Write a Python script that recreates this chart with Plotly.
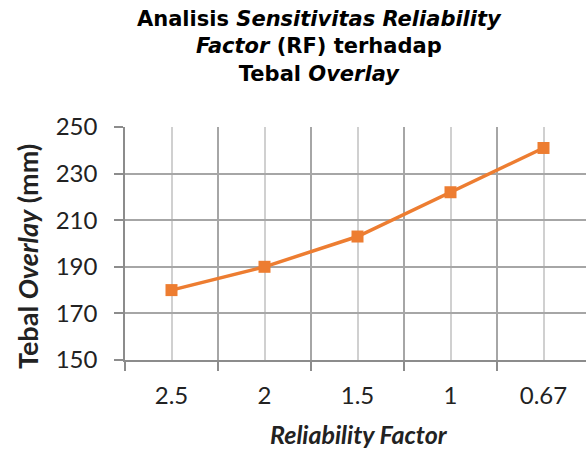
import plotly.graph_objects as go

categories = ["2.5", "2", "1.5", "1", "0.67"]
tebal_overlay = [180, 190, 203, 222, 241]
y_ticks = [150, 170, 190, 210, 230, 250]

idx = list(range(len(categories)))

fig = go.Figure()
fig.add_trace(go.Scatter(
    x=idx, y=tebal_overlay, mode="lines+markers",
    line=dict(color="#ED7D31", width=3.5),
    marker=dict(symbol="square", size=12, color="#ED7D31"),
    showlegend=False,
))

W, H = 586, 452
ml, mr, mt, mb = 125, 0, 127, 92
cat_px = 93.0
plot_w = W - ml - mr
x_hi = -0.5 + plot_w / cat_px

fig.update_layout(
    width=W, height=H,
    margin=dict(l=ml, r=mr, t=mt, b=mb),
    paper_bgcolor="white", plot_bgcolor="white",
    xaxis=dict(
        range=[-0.5, x_hi],
        tickmode="array", tickvals=idx, ticktext=categories,
        ticks="", showgrid=True, gridcolor="#D0D0D0", gridwidth=1.5,
        showline=True, linecolor="#8C8C8C", linewidth=1.5,
        tickfont=dict(family="Lato", size=24, color="#222"),
        ticklabelstandoff=13,
        minor=dict(tick0=-0.5, dtick=1, showgrid=True, gridcolor="#A6A6A6", gridwidth=1.5,
                   ticks="outside", ticklen=9, tickcolor="#8C8C8C", tickwidth=1.5),
        zeroline=False, fixedrange=True,
    ),
    yaxis=dict(
        range=[150, 250], tickmode="array", tickvals=y_ticks,
        ticks="outside", ticklen=9, tickcolor="#8C8C8C", tickwidth=1.5,
        showgrid=True, gridcolor="#A6A6A6", gridwidth=1.5,
        showline=True, linecolor="#8C8C8C", linewidth=1.5,
        tickfont=dict(family="Lato", size=24, color="#222"),
        ticklabelstandoff=12,
        zeroline=False, fixedrange=True,
    ),
    annotations=[
        dict(text="<b>Analisis <i>Sensitivitas Reliability</i><br><i>Factor</i> (RF) terhadap<br>Tebal <i>Overlay</i></b>",
             xref="paper", yref="paper", x=(319 - ml) / plot_w, y=1, yshift=mt - 46,
             showarrow=False, xanchor="center", yanchor="middle", align="center",
             font=dict(family="DejaVu Sans", size=21, color="black")),
        dict(text="<b>Tebal <i>Overlay</i> (mm)</b>", xref="paper", yref="paper",
             x=0, y=(360 - 257) / 233, xshift=-(ml - 27), showarrow=False, textangle=-90,
             xanchor="center", yanchor="middle",
             font=dict(family="Lato", size=27, color="#222")),
        dict(text="<b><i>Reliability Factor</i></b>", xref="paper", yref="paper",
             x=(359 - ml) / plot_w, y=0, yshift=-(434 - 360), showarrow=False,
             xanchor="center", yanchor="middle",
             font=dict(family="Lato", size=25, color="#222")),
    ],
)

fig.write_html("out.html")
